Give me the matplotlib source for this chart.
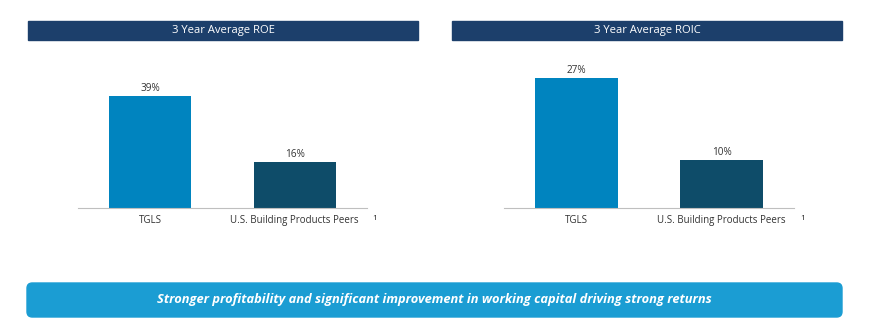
import matplotlib.pyplot as plt
from matplotlib.patches import Rectangle, FancyBboxPatch

categories = ['TGLS', 'U.S. Building Products Peers']
roe = [39, 16]
roic = [27, 10]
titles = ['3 Year Average ROE', '3 Year Average ROIC']
banner = 'Stronger profitability and significant improvement in working capital driving strong returns'

W, H = 887, 332
navy = '#1C3F6B'
bar_colors = ['#0084BF', '#0E4C69']

plt.rcParams['font.family'] = ['Open Sans', 'DejaVu Sans']

fig = plt.figure(figsize=(W / 100, H / 100), dpi=100)


def px(x0, y0, x1, y1):
    # pixel box (top-left origin) -> figure fraction [left, bottom, width, height]
    return [x0 / W, 1 - y1 / H, (x1 - x0) / W, (y1 - y0) / H]


def panel(values, title, box, title_box, ymax):
    ax = fig.add_axes(px(*box))
    xs = range(len(values))
    ax.bar(xs, values, width=0.57, color=bar_colors)
    for x, v in zip(xs, values):
        ax.text(x, v + ymax * 0.015, f'{v}%', ha='center', va='bottom',
                fontsize=7.2, color='#333333')
    ax.set_xlim(-0.5, 1.5)
    ax.set_ylim(0, ymax)
    ax.set_xticks(list(xs))
    ax.set_xticklabels(categories, fontsize=7, color='#333333')
    ax.tick_params(axis='x', length=0, pad=5)
    ax.set_yticks([])
    for s in ['top', 'right', 'left']:
        ax.spines[s].set_visible(False)
    ax.spines['bottom'].set_color('#BFBFBF')
    ax.spines['bottom'].set_linewidth(0.8)
    # footnote marker
    ax.text(1.5 + 0.04, -0.065, '1', transform=ax.get_xaxis_transform(),
            fontsize=6, color='#222222', ha='left', va='center')
    # title bar
    l, b, w, h = px(*title_box)
    fig.patches.append(Rectangle((l, b), w, h, transform=fig.transFigure,
                                 color=navy, zorder=0))
    fig.text(l + w / 2, b + h / 2, title, ha='center', va='center',
             color='white', fontsize=8.1)
    return ax


panel(roe, titles[0], (78, 50, 367, 208), (28, 21, 418, 40), 55)
panel(roic, titles[1], (504, 50, 794, 208), (452, 21, 842, 40), 32.9)

l, b, w, h = px(27, 283, 842, 317)
fig.patches.append(FancyBboxPatch((l, b), w, h, transform=fig.transFigure,
                                  boxstyle='round,pad=0,rounding_size=0.006',
                                  mutation_aspect=W / H,
                                  color='#1B9DD3', zorder=0))
fig.text(l + w / 2, b + h / 2, banner, ha='center', va='center',
         color='white', fontsize=9.3, fontweight='bold', fontstyle='italic',
         family=['Liberation Sans Narrow', 'Open Sans', 'DejaVu Sans'])

fig.savefig('out.png', dpi=100)
